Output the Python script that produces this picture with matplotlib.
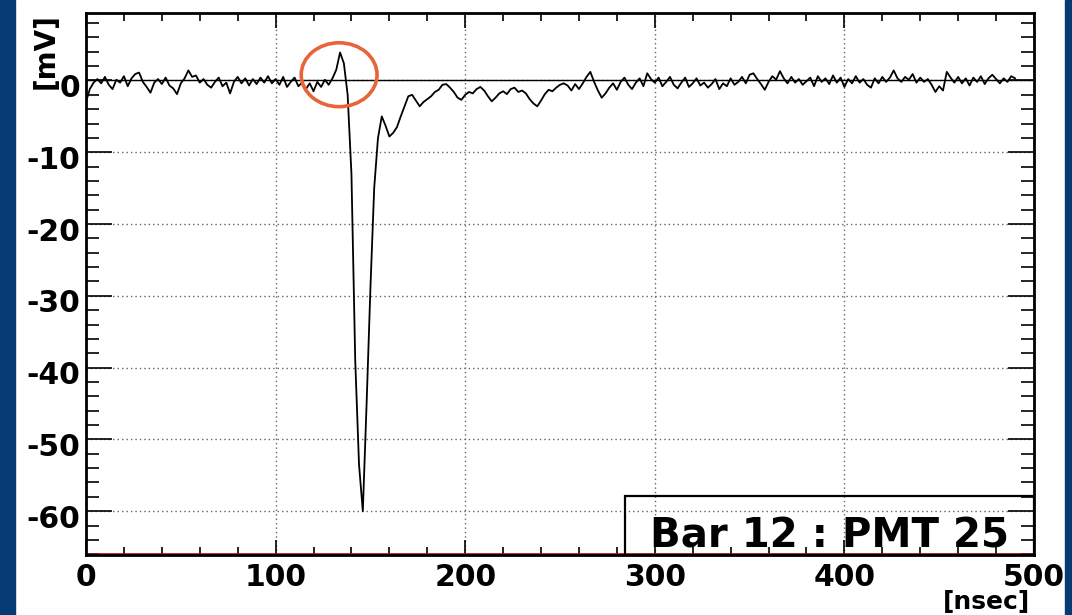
"""
PMT waveform display: Bar 12 : PMT 25, with the pre-pulse bump circled.
"""
import numpy as np
import matplotlib
matplotlib.use("Agg")
import matplotlib.pyplot as plt
from matplotlib.patches import Ellipse, Rectangle
from matplotlib.ticker import MultipleLocator
from matplotlib.transforms import ScaledTranslation

# ---------------------------------------------------------------------------
# Data (one sample every 2 ns)
# ---------------------------------------------------------------------------
SAMPLE_NS = 2

baseline_pre = [  # 0 .. 130 ns
    -3.0, -1.2, -0.3, 0.2, -0.4, 0.5, -0.6, -1.2, 0.1, -0.3,
    0.6, -0.8, 0.3, 0.9, 1.1, -0.2, -0.9, -1.7, -0.3, 0.2,
    -0.5, 0.4, -0.7, -1.1, -1.9, -0.4, 0.3, 1.4, 0.5, 0.7,
    -0.3, 0.2, -0.6, -1.0, -0.2, 0.4, -0.8, -0.3, -1.8, -0.2,
    0.5, -0.4, 0.3, -0.7, 0.2, -0.5, 0.4, -0.3, 0.6, -0.4,
    0.2, -0.6, 0.5, -0.9, -0.2, 0.4, -0.8, -0.3, -1.2, -0.4,
    -1.5, -0.2, -0.9, 0.1, -0.6, 0.3,
]
pulse = [  # 132 .. 160 ns
    1.5, 3.9, 2.4, -2.0, -13.0, -39.0, -53.5, -60.0, -45.0, -29.0,
    -15.0, -8.0, -5.0, -6.3, -7.8,
]
tail = [  # 162 .. 302 ns
    -7.3, -6.5, -5.0, -3.6, -2.2, -2.0, -2.8, -3.6, -3.0, -2.6,
    -2.2, -1.6, -1.3, -0.6, -0.5, -1.0, -1.6, -2.4, -2.7, -2.0,
    -1.6, -1.8, -1.2, -0.9, -1.4, -2.2, -2.9, -2.4, -1.8, -1.5,
    -1.9, -1.2, -1.0, -1.6, -1.4, -1.8, -2.6, -3.2, -3.6, -2.8,
    -1.9, -1.3, -1.5, -1.0, -0.6, -0.4, -0.7, -1.4, -0.5, -1.2,
    -0.4, 0.5, 1.2, -0.2, -1.4, -2.4, -1.8, -1.0, -0.4, -1.3,
    -0.2, 0.4, -0.6, -1.2, -0.3, 0.3, -0.8, 1.0, 0.2, -0.3,
    0.4,
]
baseline_post = [  # 304 .. 490 ns
    -0.8, -0.2, 0.5, -0.6, -1.1, -0.3, 0.4, -0.9, -0.4, 0.3,
    -0.7, -0.3, -1.0, -0.5, 0.2, -1.2, -0.4, -0.8, 0.3, -0.6,
    -0.2, 0.5, -0.4, 0.8, 1.0, 0.2, -0.5, -1.3, -0.2, 0.6,
    0.1, 1.3, 0.3, -0.4, 0.5, -0.3, 0.2, -0.6, -0.1, 0.4,
    -0.8, 0.6, -0.2, 0.3, -0.5, 0.7, -0.3, 0.4, -0.9, 0.2,
    -0.4, 0.6, -0.3, 0.2, -0.6, -1.0, 0.3, -0.4, 0.5, -0.2,
    0.4, 1.4, 0.3, -0.2, 0.5, 0.1, 0.9, -0.3, 0.4, -0.2,
    0.2, -0.6, -1.6, -0.8, -1.4, 1.2, 0.4, -0.3, 0.5, -0.4,
    0.3, -0.7, 0.4, -0.2, 0.6, -0.5, 0.3, 0.8, 0.2, -0.4,
    0.3, -0.2, 0.6, 0.3,
]
volts_mv = np.array(baseline_pre + pulse + tail + baseline_post)
time_ns = np.arange(len(volts_mv)) * SAMPLE_NS

x_ticks = [0, 100, 200, 300, 400, 500]
y_ticks = [0, -10, -20, -30, -40, -50, -60]
label_text = "Bar 12 : PMT 25"

# circled pre-pulse (centre ns, centre mV, width ns, height mV)
circle_at = (133.5, 0.8, 40.0, 8.9)

# ---------------------------------------------------------------------------
# Figure
# ---------------------------------------------------------------------------
W, H = 1072, 615
plt.rcParams["font.family"] = ["DejaVu Sans"]
plt.rcParams["font.weight"] = "bold"

fig = plt.figure(figsize=(W / 100, H / 100), dpi=100)
fig.patch.set_facecolor("white")
blue = "#053b72"
fig.patches.append(Rectangle((0, 0), 15 / W, 1, transform=fig.transFigure,
                             color=blue, zorder=0))
fig.patches.append(Rectangle((1065 / W, 0), 7 / W, 1, transform=fig.transFigure,
                             color=blue, zorder=0))

ax = fig.add_axes([86 / W, (H - 555) / H, 948 / W, 542 / H])
ax.set_xlim(0, 500)
ax.set_ylim(-66.1, 9.4)

ax.grid(True, which="major", color="#666666", ls=(0, (1, 2.2)), lw=1.0)
ax.axhline(0, color="black", lw=1.0, zorder=2)
ax.axhline(-66.0, color="#a01010", lw=1.2, zorder=2)
ax.plot(time_ns, volts_mv, color="black", lw=1.3, zorder=3)

ax.xaxis.set_major_locator(plt.FixedLocator(x_ticks))
ax.yaxis.set_major_locator(plt.FixedLocator(y_ticks))
ax.xaxis.set_minor_locator(MultipleLocator(20))
ax.yaxis.set_minor_locator(MultipleLocator(2))
ax.tick_params(axis="both", which="both", direction="in", top=True, right=True,
               width=1.2, color="black")
ax.tick_params(axis="x", which="major", length=11, labelsize=21.5, pad=6)
ax.tick_params(axis="x", which="minor", length=5.5)
ax.tick_params(axis="y", which="major", length=19, labelsize=21.5, pad=4)
ax.tick_params(axis="y", which="minor", length=9.5)
ax.set_xticklabels([str(v) for v in x_ticks])
ax.set_yticklabels([str(v) for v in y_ticks])
shift = ScaledTranslation(0, -5 / 100, fig.dpi_scale_trans)
for lab in ax.get_yticklabels():
    lab.set_transform(lab.get_transform() + shift)
for sp in ax.spines.values():
    sp.set_linewidth(2.0)

# circle around the pre-pulse
cx, cy, cw, ch = circle_at
ax.add_patch(Ellipse((cx, cy), cw, ch, fill=False, ec="#e8643a", lw=2.6, zorder=4))

# label box in lower right
box_x0 = (625 - 86) / 948
box_h = (555 - 496) / 542
ax.add_patch(Rectangle((box_x0, 0), 1 - box_x0, box_h, transform=ax.transAxes,
                       fill=False, ec="black", lw=1.6, zorder=5))
ax.text((829 - 86) / 948, (555 - 548) / 542, label_text, transform=ax.transAxes,
        ha="center", va="baseline", fontsize=29, fontweight="bold", zorder=6)

# axis titles, ROOT style (top of y axis, right end of x axis)
fig.text(46 / W, 1 - 13 / H, "[mV]", rotation=90, ha="center", va="top",
         fontsize=20, fontweight="bold")
fig.text(1030 / W, 1 / H, "[nsec]", ha="right", va="bottom",
         fontsize=18, fontweight="bold")

fig.savefig("out.png", dpi=100)
print("saved out.png")
